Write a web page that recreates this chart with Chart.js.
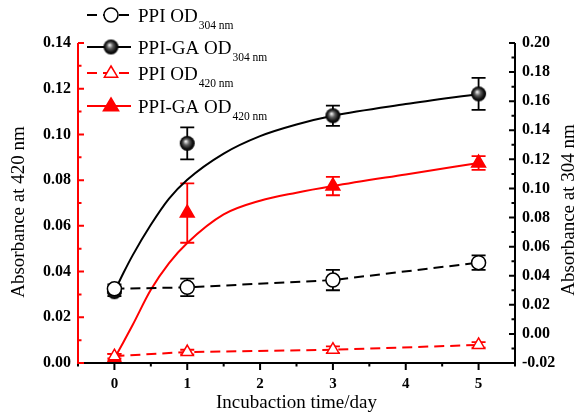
<!DOCTYPE html>
<html>
<head>
<meta charset="utf-8">
<script src="https://cdn.jsdelivr.net/npm/chart.js@4/dist/chart.umd.min.js"></script>
<style>
  html, body { margin: 0; padding: 0; background: #fff; }
  canvas { display: block; }
</style>
</head>
<body>
<canvas id="chart" width="578" height="415"></canvas>
<script>
// measured points (incubation day)
const days = [0, 1, 3, 5];
const ppi304 = [0.031, 0.032, 0.037, 0.049];
const ppi304Err = [0.003, 0.006, 0.007, 0.005];
const ga304 = [0.029, 0.131, 0.150, 0.165];
const ga304Err = [0.003, 0.011, 0.007, 0.011];
const ppi420 = [0.003, 0.0048, 0.0058, 0.0079];
const ppi420Err = [0.001, 0.001, 0.0015, 0.0012];
const ga420 = [0.002, 0.0656, 0.0774, 0.0875];
const ga420Err = [0.002, 0.013, 0.004, 0.003];

// fitted curves
const fitDays = [0, 0.125, 0.25, 0.5, 0.75, 1, 1.5, 2, 2.5, 3, 4, 5];
const ga304Fit = [0.029, 0.042, 0.054, 0.075, 0.093, 0.106, 0.124, 0.136, 0.144, 0.150, 0.158, 0.165];
const ga420Fit = [0.002, 0.0092, 0.0166, 0.032, 0.0437, 0.0525, 0.065, 0.071, 0.0745, 0.0774, 0.0825, 0.0875];

// legend texts
const seriesNames = ['PPI OD', 'PPI-GA OD', 'PPI OD', 'PPI-GA OD'];
const seriesSubs = ['304 nm', '304 nm', '420 nm', '420 nm'];

// tick labels
const xTicks = [0, 1, 2, 3, 4, 5];
const leftTicks = [0, 0.02, 0.04, 0.06, 0.08, 0.10, 0.12, 0.14];
const rightTicks = [-0.02, 0, 0.02, 0.04, 0.06, 0.08, 0.10, 0.12, 0.14, 0.16, 0.18, 0.20];

const RED = '#ff0000';
const SERIF = "'Liberation Serif', 'Times New Roman', serif";

// shaded ball marker
function makeBall(r) {
  const c = document.createElement('canvas');
  c.width = c.height = r * 2 + 2;
  const g = c.getContext('2d');
  const m = r + 1;
  const grad = g.createRadialGradient(m - 1.5, m - 2, 0.5, m, m, r);
  grad.addColorStop(0, '#e8e8e8');
  grad.addColorStop(0.35, '#606060');
  grad.addColorStop(0.75, '#111');
  grad.addColorStop(1, '#000');
  g.fillStyle = grad;
  g.beginPath();
  g.arc(m, m, r, 0, Math.PI * 2);
  g.fill();
  return c;
}
const ball = makeBall(7.5);

const pts = (xs, ys) => xs.map((v, i) => ({ x: v, y: ys[i] }));

// error bars from the err arrays
const errorBars = {
  id: 'errorBars',
  beforeDatasetsDraw(chart) {
    const ctx = chart.ctx;
    ctx.save();
    chart.data.datasets.forEach(ds => {
      if (!ds.errors) return;
      const ys = chart.scales[ds.yAxisID];
      const xs = chart.scales.x;
      ctx.strokeStyle = ds.barColor;
      ctx.lineWidth = 1.8;
      ds.data.forEach((p, i) => {
        const e = ds.errors[i];
        const px = xs.getPixelForValue(p.x);
        const t = ys.getPixelForValue(p.y + e);
        const b = ys.getPixelForValue(p.y - e);
        ctx.beginPath();
        ctx.moveTo(px, t); ctx.lineTo(px, b);
        ctx.moveTo(px - 7, t); ctx.lineTo(px + 7, t);
        ctx.moveTo(px - 7, b); ctx.lineTo(px + 7, b);
        ctx.stroke();
      });
    });
    ctx.restore();
  }
};

function drawMarker(ctx, style, x, y, r, fill, stroke) {
  if (style === 'ball') {
    ctx.drawImage(ball, x - ball.width / 2, y - ball.height / 2);
    return;
  }
  ctx.beginPath();
  if (style === 'circle') {
    ctx.arc(x, y, r, 0, Math.PI * 2);
  } else {
    ctx.moveTo(x, y - r);
    ctx.lineTo(x + r * 0.95, y + r * 0.6);
    ctx.lineTo(x - r * 0.95, y + r * 0.6);
    ctx.closePath();
  }
  ctx.fillStyle = fill;
  ctx.fill();
  ctx.lineWidth = 1.5;
  ctx.strokeStyle = stroke;
  ctx.stroke();
}

// axes with ticks, titles and the legend
const frame = {
  id: 'frame',
  afterDraw(chart) {
    const { ctx, chartArea: a, scales } = chart;
    const { x, y, y1 } = scales;
    ctx.save();
    ctx.lineWidth = 2;

    // bottom axis, ticks pointing down
    ctx.strokeStyle = '#000';
    ctx.beginPath();
    ctx.moveTo(a.left, a.bottom); ctx.lineTo(a.right + 1, a.bottom);
    const xStep = (xTicks[1] - xTicks[0]) / 2;
    for (let v = x.min; v <= x.max + 1e-9; v += xStep) {
      const px = x.getPixelForValue(v);
      const major = xTicks.some(t => Math.abs(t - v) < 1e-9);
      ctx.moveTo(px, a.bottom); ctx.lineTo(px, a.bottom + (major ? 7 : 3.5));
    }
    ctx.stroke();

    // right axis
    ctx.beginPath();
    ctx.moveTo(a.right, a.top); ctx.lineTo(a.right, a.bottom + 1);
    const rStep = (rightTicks[1] - rightTicks[0]) / 2;
    for (let v = y1.min; v <= y1.max + 1e-9; v += rStep) {
      const py = y1.getPixelForValue(v);
      const major = rightTicks.some(t => Math.abs(t - v) < 1e-9);
      ctx.moveTo(a.right, py); ctx.lineTo(a.right - (major ? 6 : 3.5), py);
    }
    ctx.stroke();

    // left axis (red)
    ctx.strokeStyle = RED;
    ctx.beginPath();
    ctx.moveTo(a.left, a.top); ctx.lineTo(a.left, a.bottom + 1);
    const lStep = (leftTicks[1] - leftTicks[0]) / 2;
    for (let v = y.min; v <= y.max + 1e-9; v += lStep) {
      const py = y.getPixelForValue(v);
      const major = leftTicks.some(t => Math.abs(t - v) < 1e-9);
      ctx.moveTo(a.left, py); ctx.lineTo(a.left + (major ? 6 : 3.5), py);
    }
    ctx.stroke();

    // axis titles
    ctx.fillStyle = '#000';
    ctx.font = '19px ' + SERIF;
    ctx.textAlign = 'center';
    ctx.textBaseline = 'alphabetic';
    ctx.fillText('Incubaction time/day', (a.left + a.right) / 2, 408);
    ctx.textBaseline = 'middle';
    ctx.save();
    ctx.translate(19, 212);
    ctx.rotate(-Math.PI / 2);
    ctx.fillText('Absorbance at 420 nm', 0, 0);
    ctx.restore();
    ctx.save();
    ctx.translate(569, 210);
    ctx.rotate(-Math.PI / 2);
    ctx.fillText('Absorbance at 304 nm', 0, 0);
    ctx.restore();

    // legend
    const rows = [15, 47, 73, 106];
    ctx.textAlign = 'left';
    ctx.textBaseline = 'alphabetic';
    chart.data.datasets.slice(0, 4).forEach((ds, i) => {
      const ry = rows[i];
      ctx.strokeStyle = ds.borderColor;
      ctx.lineWidth = 2;
      ctx.setLineDash(ds.borderDash || []);
      ctx.beginPath();
      ctx.moveTo(87, ry); ctx.lineTo(131, ry);
      ctx.stroke();
      ctx.setLineDash([]);
      drawMarker(ctx, ds.legendMarker, 111, ry, ds.pointRadius, ds.pointBackgroundColor, ds.pointBorderColor);
      ctx.fillStyle = '#000';
      ctx.font = '19px ' + SERIF;
      const tx = 138;
      ctx.fillText(seriesNames[i], tx, ry + 7);
      const w = ctx.measureText(seriesNames[i]).width;
      ctx.font = '11.5px ' + SERIF;
      ctx.fillText(seriesSubs[i], tx + w + 1, ry + 14);
    });
    ctx.restore();
  }
};

const xFont = { family: SERIF, size: 15, weight: 'bold' };
const yFont = { family: SERIF, size: 16, weight: 'bold' };

new Chart(document.getElementById('chart'), {
  type: 'scatter',
  data: {
    datasets: [
      {
        data: pts(days, ppi304), yAxisID: 'y1', showLine: true,
        borderColor: '#000', borderWidth: 2, borderDash: [10, 6],
        pointStyle: 'circle', pointRadius: 7, pointBackgroundColor: '#fff',
        pointBorderColor: '#000', pointBorderWidth: 1.5,
        errors: ppi304Err, barColor: '#000', legendMarker: 'circle'
      },
      {
        data: pts(days, ga304), yAxisID: 'y1', showLine: false,
        borderColor: '#000', borderWidth: 2,
        pointStyle: ball, pointRadius: 7.5, pointBackgroundColor: '#000',
        pointBorderColor: '#000',
        errors: ga304Err, barColor: '#000', legendMarker: 'ball'
      },
      {
        data: pts(days, ppi420), yAxisID: 'y', showLine: true,
        borderColor: RED, borderWidth: 2, borderDash: [10, 6],
        pointStyle: 'triangle', pointRadius: 7, pointBackgroundColor: '#fff',
        pointBorderColor: RED, pointBorderWidth: 1.5,
        errors: ppi420Err, barColor: RED, legendMarker: 'triangle'
      },
      {
        data: pts(days, ga420), yAxisID: 'y', showLine: false,
        borderColor: RED, borderWidth: 2,
        pointStyle: 'triangle', pointRadius: 8, pointBackgroundColor: RED,
        pointBorderColor: RED, pointBorderWidth: 1.5,
        errors: ga420Err, barColor: RED, legendMarker: 'triangle'
      },
      {
        data: pts(fitDays, ga304Fit), yAxisID: 'y1', showLine: true,
        borderColor: '#000', borderWidth: 2, pointRadius: 0,
        cubicInterpolationMode: 'monotone'
      },
      {
        data: pts(fitDays, ga420Fit), yAxisID: 'y', showLine: true,
        borderColor: RED, borderWidth: 2, pointRadius: 0,
        cubicInterpolationMode: 'monotone'
      }
    ]
  },
  options: {
    responsive: false,
    animation: false,
    devicePixelRatio: 1,
    layout: { padding: { top: 43, left: 0, right: 0, bottom: 0 } },
    plugins: { legend: { display: false }, tooltip: { enabled: false } },
    scales: {
      x: {
        type: 'linear', min: -0.5, max: 5.5,
        grid: { display: false, drawTicks: false }, border: { display: false },
        afterBuildTicks: s => { s.ticks = xTicks.map(v => ({ value: v })); },
        afterFit: s => { s.height = 52; },
        ticks: { font: xFont, color: '#000', padding: 12, maxRotation: 0, callback: v => String(v) }
      },
      y: {
        type: 'linear', position: 'left', min: 0, max: 0.14,
        grid: { display: false, drawTicks: false }, border: { display: false },
        afterBuildTicks: s => { s.ticks = leftTicks.map(v => ({ value: v })); },
        afterFit: s => { s.width = 78; },
        ticks: { font: yFont, color: '#000', padding: 7, callback: v => v.toFixed(2) }
      },
      y1: {
        type: 'linear', position: 'right', min: -0.02, max: 0.20,
        grid: { display: false, drawTicks: false }, border: { display: false },
        afterBuildTicks: s => { s.ticks = rightTicks.map(v => ({ value: v })); },
        afterFit: s => { s.width = 63; },
        ticks: { font: yFont, color: '#000', padding: 7, callback: v => v.toFixed(2) }
      }
    }
  },
  plugins: [errorBars, frame]
});
</script>
</body>
</html>
